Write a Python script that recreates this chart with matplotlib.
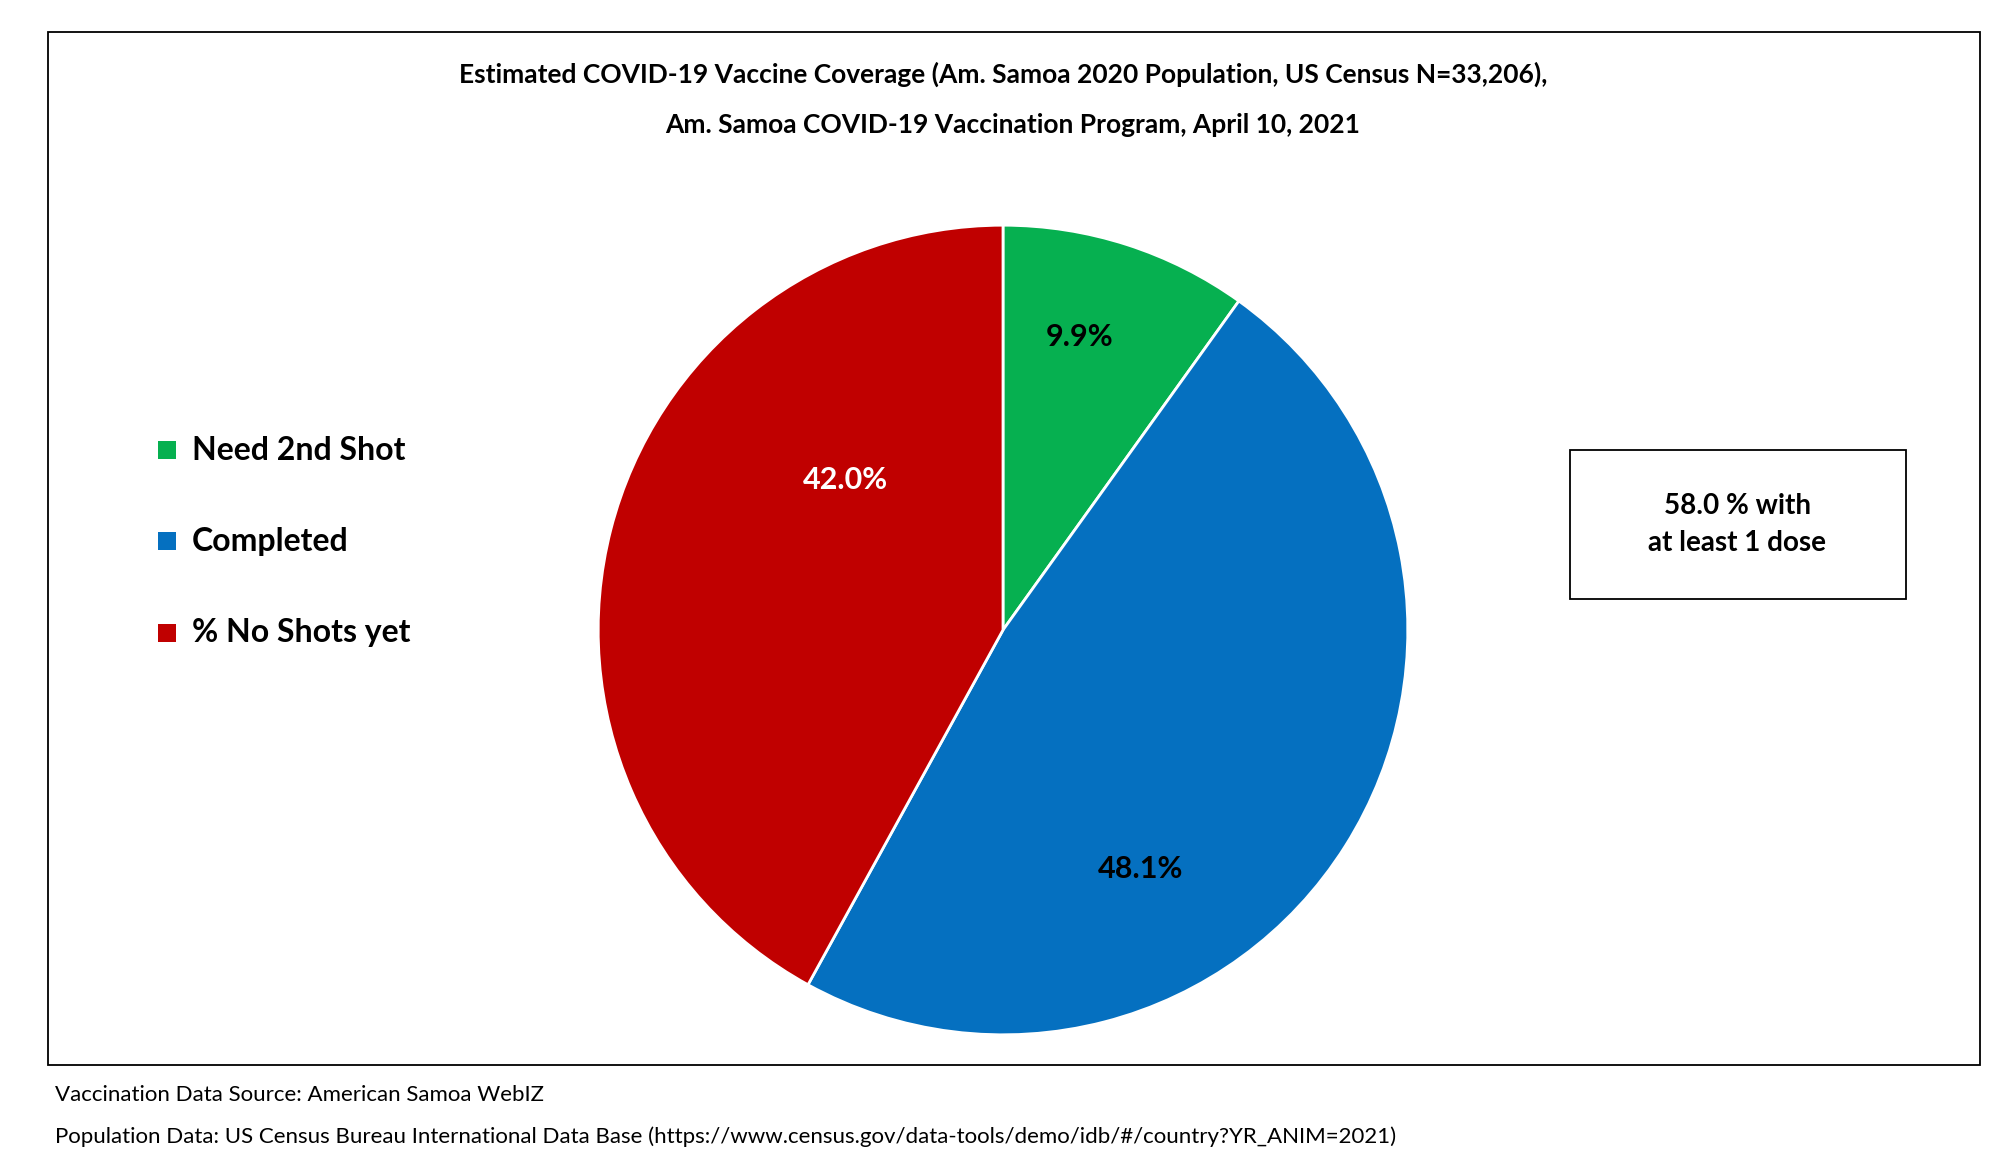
import matplotlib.pyplot as plt
from matplotlib.patches import Rectangle

labels = ["Need 2nd Shot", "Completed", "% No Shots yet"]
values = [9.9, 48.1, 42.0]
colors = ["#06b050", "#0570c0", "#c00000"]
pct_colors = ["black", "black", "white"]
# label positions relative to pie radius
label_pos = [(0.19, 0.725), (0.34, -0.59), (-0.39, 0.37)]

plt.rcParams["font.family"] = ["Lato", "DejaVu Sans"]

W, H = 1560, 910
fig = plt.figure(figsize=(20.06, 11.70), dpi=100)

fig.patches.append(Rectangle((37 / W, 1 - 828 / H), (1540 - 37) / W, (828 - 25) / H,
                             transform=fig.transFigure, fill=False, edgecolor="black", linewidth=1.3))

fig.text(0.5, 1 - 58 / H, "Estimated COVID-19 Vaccine Coverage (Am. Samoa 2020 Population, US Census N=33,206),",
         ha="center", va="center", fontsize=19, fontweight="bold")
fig.text(0.505, 1 - 97 / H, "Am. Samoa COVID-19 Vaccination Program, April 10, 2021",
         ha="center", va="center", fontsize=19, fontweight="bold")

r_h = 318 / H
ax_h = 2 * r_h
ax_w = ax_h * 11.70 / 20.06
ax = fig.add_axes([780 / W - ax_w / 2, 1 - 490 / H - r_h, ax_w, ax_h])
wedges, _ = ax.pie(values, colors=colors, startangle=90, counterclock=False,
                   wedgeprops=dict(edgecolor="white", linewidth=2), radius=1)
ax.set_xlim(-1.01, 1.01)
ax.set_ylim(-1.01, 1.01)
ax.set_aspect("equal")
for v, (x, y), c in zip(values, label_pos, pct_colors):
    ax.text(x, y, f"{v:.1f}%", ha="center", va="center", fontsize=22, fontweight="bold", color=c)

for i, (lab, col) in enumerate(zip(labels, colors)):
    y = 1 - (350 + 71 * i) / H
    fig.patches.append(Rectangle((123 / W, y - 7 / H), 14 / W, 14 / H, transform=fig.transFigure,
                                 facecolor=col, edgecolor="none"))
    fig.text(149 / W, y, lab, ha="left", va="center", fontsize=23, fontweight="bold")

fig.patches.append(Rectangle((1221 / W, 1 - 466 / H), (1482 - 1221) / W, (466 - 350) / H,
                             transform=fig.transFigure, fill=False, edgecolor="black", linewidth=1.3))
fig.text(1351 / W, 1 - 408 / H, "58.0 % with\nat least 1 dose", ha="center", va="center",
         fontsize=20, fontweight="bold", linespacing=1.5)

fig.text(43 / W, 1 - 852 / H, "Vaccination Data Source: American Samoa WebIZ", fontsize=16, va="center")
fig.text(43 / W, 1 - 884 / H,
         "Population Data: US Census Bureau International Data Base (https://www.census.gov/data-tools/demo/idb/#/country?YR_ANIM=2021)",
         fontsize=16, va="center")

fig.savefig("out.png", dpi=100)
